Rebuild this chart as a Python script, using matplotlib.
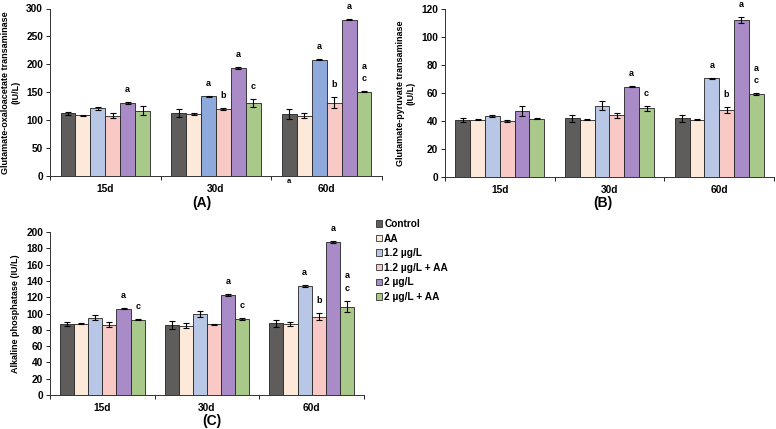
import matplotlib
matplotlib.use("Agg")
import matplotlib.pyplot as plt
from matplotlib.patches import Patch
import numpy as np

plt.rcParams['font.family'] = ['Liberation Sans', 'DejaVu Sans']
plt.rcParams['font.weight'] = 'bold'

categories = ["15d", "30d", "60d"]
groups = ["Control", "AA", "1.2 µg/L", "1.2 µg/L + AA", "2 µg/L", "2 µg/L + AA"]
colors = ["#5f5c5c", "#fde9d9", "#b9c7e7", "#f9c9c5", "#a98bc8", "#a9c98b"]

# Panel A: Glutamate-oxaloacetate transaminase (IU/L) [group][category]
got_vals = [[112, 113, 111],
            [109, 111, 108],
            [121, 143, 208],
            [108, 120, 131],
            [131, 193, 280],
            [117, 131, 151]]
got_err = [[2, 7, 9],
           [1, 2, 5],
           [3, 1, 1],
           [5, 1, 10],
           [2, 2, 1],
           [8, 7, 1]]
got_letters = [["", "", ""],
               ["", "", ""],
               ["", "a", "a"],
               ["", "b", "b"],
               ["a", "a", "a"],
               ["", "c", "a\nc"]]

# Panel B: Glutamate-pyruvate transaminase (IU/L)
gpt_vals = [[41, 42, 42],
            [41, 41, 41],
            [43.5, 51, 70.5],
            [40, 44, 48],
            [47, 64.5, 112],
            [41.5, 49, 59]]
gpt_err = [[1.5, 2.5, 2.5],
           [0.5, 0.3, 0.5],
           [0.7, 3, 0.5],
           [0.5, 2, 2],
           [3.5, 0.3, 2],
           [0.3, 2, 0.7]]
gpt_letters = [["", "", ""],
               ["", "", ""],
               ["", "", "a"],
               ["", "", "b"],
               ["", "a", "a"],
               ["", "c", "a\nc"]]

# Panel C: Alkaline phosphatase (IU/L)
alp_vals = [[87, 86, 88],
            [87.5, 85, 87],
            [95, 99, 134],
            [86, 87, 96],
            [106, 123, 188],
            [92.5, 93.5, 108.5]]
alp_err = [[2.5, 5, 4.5],
           [0.5, 3, 2],
           [3, 3.5, 1.5],
           [3, 0.5, 4.5],
           [1, 1.5, 1],
           [0.7, 1.5, 7]]
alp_letters = [["", "", ""],
               ["", "", ""],
               ["", "", "a"],
               ["", "", "b"],
               ["a", "a", "a"],
               ["c", "c", "a\nc"]]

fig = plt.figure(figsize=(7.76, 4.29), dpi=100)
W, H = 776, 429

def ax_at(x0, x1, ytop, ybot):
    return fig.add_axes([x0 / W, 1 - ybot / H, (x1 - x0) / W, (ybot - ytop) / H])

width = 0.135
x = np.arange(len(categories))

def draw(ax, vals, errs, letters, ymax, ystep, ylabel, color_override=None):
    for i, g in enumerate(groups):
        pos = x + (i - 2.5) * width
        cols = [colors[i]] * len(categories)
        if color_override and i in color_override:
            for j, c in color_override[i].items():
                cols[j] = c
        ax.bar(pos, vals[i], width, color=cols, edgecolor="#222222", linewidth=0.6, zorder=2)
        ax.errorbar(pos, vals[i], yerr=errs[i], fmt="none", ecolor="black",
                    elinewidth=0.8, capsize=2.5, capthick=0.8, zorder=3)
        for j in range(len(categories)):
            t = letters[i][j]
            if t:
                top = vals[i][j] + errs[i][j]
                lines = t.split("\n")
                for k, ln in enumerate(lines[::-1]):
                    ax.annotate(ln, (pos[j], top), xytext=(0, 9 + 9 * k), textcoords="offset points",
                                ha="center", va="center", fontsize=6.5, fontweight="bold")
    ax.set_xlim(-0.5, 2.5)
    ax.set_ylim(0, ymax)
    ax.set_yticks(np.arange(0, ymax + 1, ystep))
    ax.set_xticks([-0.5, 0.5, 1.5, 2.5])
    ax.set_xticklabels([])
    ax.set_xticks(x, minor=True)
    ax.set_xticklabels(categories, minor=True)
    ax.tick_params(axis="x", which="major", direction="out", length=3, width=0.6)
    ax.tick_params(axis="x", which="minor", length=0, pad=6, labelsize=7.3)
    ax.tick_params(axis="y", direction="out", length=3, width=0.6, labelsize=7.3, pad=2)
    for lab in ax.get_xticklabels(minor=True) + ax.get_yticklabels():
        lab.set_fontweight("bold")
    for s in ["top", "right"]:
        ax.spines[s].set_visible(False)
    for s in ["left", "bottom"]:
        ax.spines[s].set_linewidth(0.7)
        ax.spines[s].set_color("#333333")
    ax.set_ylabel(ylabel, fontsize=6.5, fontweight="bold", labelpad=4)

axA = ax_at(50, 382, 8.5, 176)
draw(axA, got_vals, got_err, got_letters, 300, 50,
     "Glutamate-oxaloacetate transaminase\n(IU/L)",
     color_override={2: {1: "#8eaadd", 2: "#8eaadd"}})
axA.annotate("a", (2 - 2.5 * width, 0), xytext=(0, -4), textcoords="offset points",
             ha="center", va="center", fontsize=5.5, fontweight="bold", annotation_clip=False)

axB = ax_at(445, 774, 9, 177)
draw(axB, gpt_vals, gpt_err, gpt_letters, 120, 20,
     "Glutamate-pyruvate transaminase\n(IU/L)")

axC = ax_at(50, 364, 232, 395)
draw(axC, alp_vals, alp_err, alp_letters, 200, 20,
     "Alkaline phosphatase (IU/L)")

fig.text(202 / W, 1 - 203 / H, "(A)", ha="center", va="center", fontsize=10, fontweight="bold")
fig.text(603 / W, 1 - 203 / H, "(B)", ha="center", va="center", fontsize=10, fontweight="bold")
fig.text(212 / W, 1 - 421 / H, "(C)", ha="center", va="center", fontsize=10, fontweight="bold")

handles = [Patch(facecolor=c, edgecolor="#333333", linewidth=0.6) for c in colors]
fig.legend(handles, groups, loc="upper left", bbox_to_anchor=(372 / W, 1 - 215 / H),
           frameon=False, handlelength=0.6, handleheight=0.6,
           handletextpad=0.2, labelspacing=0.45, borderaxespad=0,
           prop={"weight": "bold", "size": 7.3})

fig.savefig("out.png", dpi=100)
